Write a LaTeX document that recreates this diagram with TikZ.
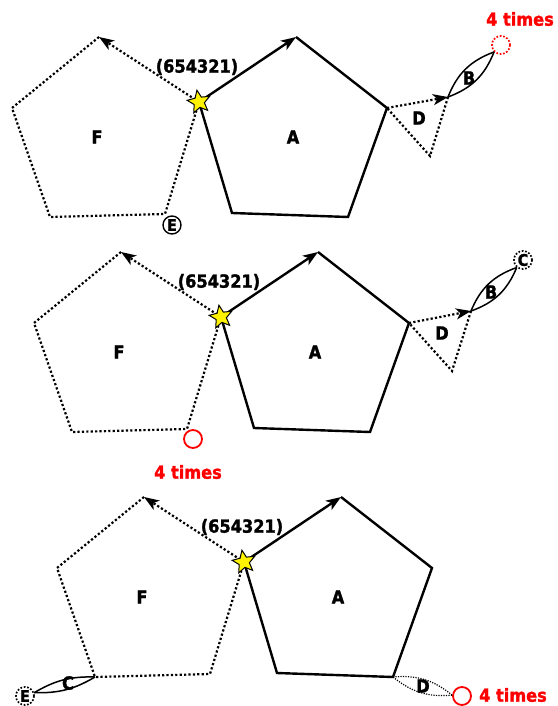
\documentclass[tikz,border=0pt]{standalone}
\usepackage{fontspec}
\setmainfont{DejaVu Sans Condensed}[BoldFeatures={FakeBold=1.5}]
\usetikzlibrary{arrows.meta,shapes.geometric}
\tikzset{
  solidline/.style={line width=2.4pt, line join=miter},
  dotline/.style={line width=2.2pt, dash pattern=on 2.2pt off 2.2pt},
  arr/.style={-{Stealth[length=15pt,width=11pt,inset=4pt]}},
  lbl/.style={font=\bfseries\fontsize{18}{18}\selectfont, inner sep=0pt},
  redlbl/.style={lbl, text=red},
  starnode/.style={star, star points=5, star point ratio=2.2, minimum size=24pt, inner sep=0pt, fill=yellow, draw=black, line width=1pt, rotate=10},
  smallc/.style={circle, draw, minimum size=18pt, inner sep=0pt, font=\bfseries\fontsize{16}{16}\selectfont},
  redc/.style={circle, draw=red, line width=1.8pt, minimum size=18pt, inner sep=0pt},
  lens/.style={line width=1.5pt}
}
\newcommand\pentas[1]{%
  \coordinate (S#1) at (199,102);
  \coordinate (Ft#1) at (99,37);
  \coordinate (Fl#1) at (12,108);
  \coordinate (Fbl#1) at (50,217);
  \coordinate (Fbr#1) at (165,214);
  \coordinate (At#1) at (296,37);
  \coordinate (Ar#1) at (387,108);
  \coordinate (Abr#1) at (348,217);
  \coordinate (Abl#1) at (232,213);
  \draw[dotline,arr] (S#1) -- (Ft#1);
  \draw[dotline] (Ft#1) -- (Fl#1) -- (Fbl#1) -- (Fbr#1) -- (S#1);
  \draw[solidline,arr] (S#1) -- (At#1);
  \draw[solidline] (At#1) -- (Ar#1) -- (Abr#1) -- (Abl#1) -- (S#1);
  \node[lbl] (Flab#1) at (97,137) {F};
  \node[lbl] (Alab#1) at (293,137) {A};
  \node[lbl] (Seq#1) at (197,67) {(654321)};
  \node[starnode] (Star#1) at (S#1) {};
}
\begin{document}
\begin{tikzpicture}[x=1pt,y=-1pt]
\useasboundingbox (0,0) rectangle (557,706);
% ---------- panel 1
\begin{scope}
  \pentas{1}
  \coordinate (Dt1) at (448,97);
  \coordinate (Db1) at (430,156);
  \draw[dotline,arr] (Ar1) -- (Dt1);
  \draw[dotline] (Dt1) -- (Db1) -- (Ar1);
  \node[lbl] (Dlab1) at (419,118) {D};
  \node[circle, draw=red, line width=1.7pt, dash pattern=on 1.7pt off 1.7pt, minimum size=18pt, inner sep=0pt] (R1) at (501,45) {};
  \draw[lens] (Dt1) to[bend left=24] (R1.225);
  \draw[lens] (Dt1) to[bend right=24] (R1.225);
  \node[lbl] (Blab1) at (469,78) {B};
  \node[redlbl] (T1) at (520,19) {4 times};
  \node[smallc, line width=1.4pt] (E1) at (172,225) {E};
\end{scope}
% ---------- panel 2
\begin{scope}[shift={(22,215)}]
  \pentas{2}
  \coordinate (Dt2) at (449,96);
  \coordinate (Db2) at (430,156);
  \draw[dotline,arr] (Ar2) -- (Dt2);
  \draw[dotline] (Dt2) -- (Db2) -- (Ar2);
  \node[lbl] (Dlab2) at (420,118) {D};
  \node[smallc, line width=1.7pt, dash pattern=on 1.7pt off 1.7pt] (C2) at (501,45) {C};
  \draw[lens] (Dt2) to[bend left=24] (C2.230);
  \draw[lens] (Dt2) to[bend right=24] (C2.230);
  \node[lbl] (Blab2) at (469,77) {B};
  \node[redc] (R2) at (171,224) {};
  \node[redlbl] (T2) at (166,257) {4 times};
\end{scope}
% ---------- panel 3
\begin{scope}[shift={(45,460)}]
  \pentas{3}
  \node[smallc, line width=1.7pt, dash pattern=on 1.7pt off 1.7pt] (E3) at (-20,236) {E};
  \draw[lens] (Fbl3) to[bend left=16] (E3.20);
  \draw[lens] (Fbl3) to[bend right=16] (E3.20);
  \node[lbl] (Clab3) at (23,223) {C};
  \node[redc] (R3) at (417,236) {};
  \draw[line width=1.2pt, dash pattern=on 1.2pt off 1.3pt] (Abr3) to[bend left=22] (R3.175);
  \draw[line width=1.2pt, dash pattern=on 1.2pt off 1.3pt] (Abr3) to[bend right=22] (R3.175);
  \node[lbl] (Dlab3) at (378,226) {D};
  \node[redlbl] (T3) at (468,235) {4 times};
\end{scope}
\end{tikzpicture}
\end{document}
